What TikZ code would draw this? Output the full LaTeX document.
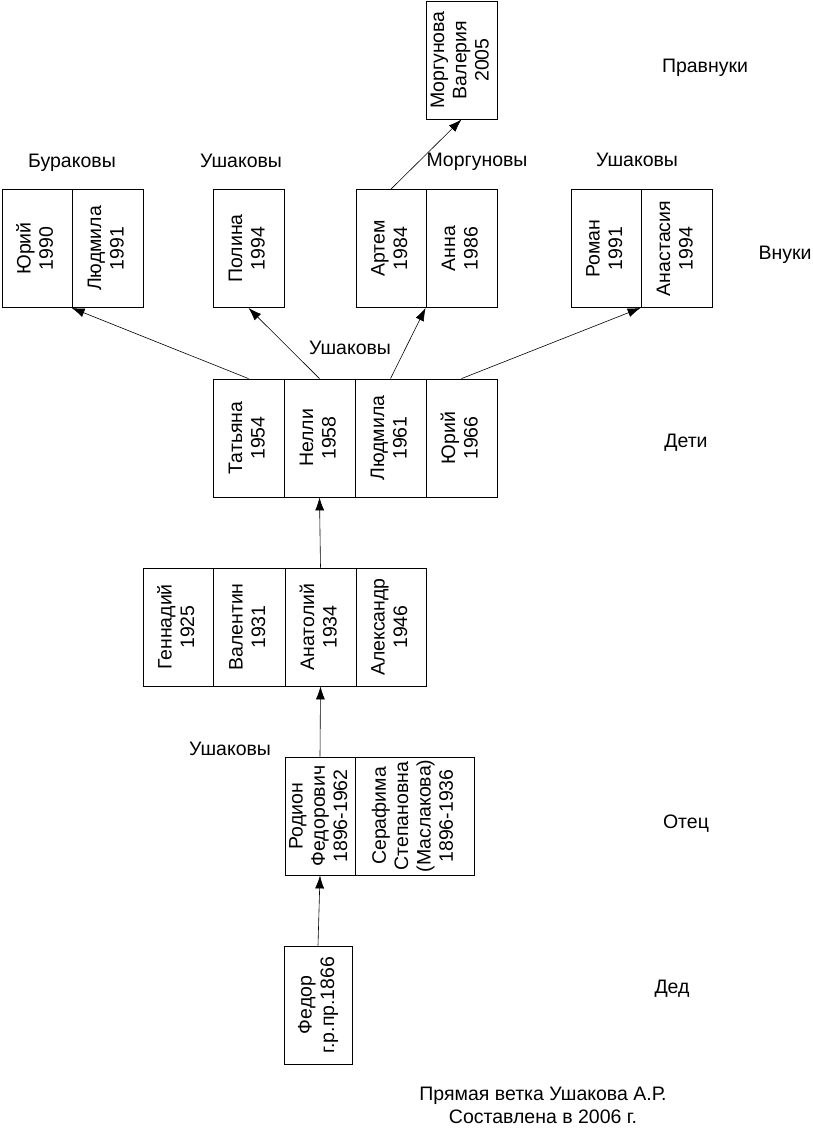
\documentclass[tikz,border=0pt]{standalone}
\usepackage{fontspec}
\setmainfont{Liberation Sans}
\usetikzlibrary{arrows.meta}
\begin{document}
\begin{tikzpicture}[x=1pt,y=-1pt,
  cell/.style={draw, line width=0.8pt, minimum width=71pt, minimum height=118pt, inner sep=0pt,
    font=\fontsize{19.5}{22.5}\selectfont},
  lbl/.style={anchor=base, inner sep=0pt, font=\fontsize{19.5}{22.5}\selectfont},
  link/.style={line width=0.6pt, -{Latex[length=13pt,width=9pt]}}]
\useasboundingbox (0,0) rectangle (812,1128);
\newcommand{\rt}[1]{\rotatebox{90}{\setbox\strutbox\hbox{\vrule height 16pt depth 6.3pt width 0pt}\begin{tabular}{@{}c@{}}#1\end{tabular}}}
% great-grandchildren
\node[cell] (morg) at (461.5,60) {\rt{Моргунова\\Валерия\\2005}};
% grandchildren
\node[cell, minimum width=70pt] (yu1) at (37,248.5) {\rt{Юрий\\1990}};
\node[cell] (lu1) at (107.5,248.5) {\rt{Людмила\\1991}};
\node[cell] (pol) at (248.5,248.5) {\rt{Полина\\1994}};
\node[cell, minimum width=70pt] (art) at (391,248.5) {\rt{Артем\\1984}};
\node[cell] (anna) at (461.5,248.5) {\rt{Анна\\1986}};
\node[cell, minimum width=70pt] (rom) at (606,248.5) {\rt{Роман\\1991}};
\node[cell] (anas) at (676.5,248.5) {\rt{Анастасия\\1994}};
% children
\node[cell] (tat) at (248.5,438) {\rt{Татьяна\\1954}};
\node[cell] (nel) at (319.5,438) {\rt{Нелли\\1958}};
\node[cell] (lud) at (390.5,438) {\rt{Людмила\\1961}};
\node[cell] (yur) at (461.5,438) {\rt{Юрий\\1966}};
% siblings
\node[cell, minimum width=70pt] (gen) at (178,627) {\rt{Геннадий\\1925}};
\node[cell, minimum width=72pt] (val) at (249,627) {\rt{Валентин\\1931}};
\node[cell] (ana) at (320.5,627) {\rt{Анатолий\\1934}};
\node[cell, minimum width=70pt] (ale) at (391,627) {\rt{Александр\\1946}};
% parents
\node[cell, minimum width=70pt] (rod) at (320,816) {\rt{Родион\\Федорович\\1896-1962}};
\node[cell, minimum width=119pt] (ser) at (414.5,816) {\rt{Серафима\\Степановна\\(Маслакова)\\1896-1936}};
% grandfather
\node[cell, minimum width=68pt] (fed) at (318,1005) {\rt{Федор\\г.р.пр.1866}};
% links
\draw[link] (tat.north) -- (lu1.south west);
\draw[link] (nel.north) -- (pol.south);
\draw[link] (lud.north) -- (anna.south west);
\draw[link] (yur.north) -- (anas.south west);
\draw[link] (art.north) -- (morg.south);
\draw[link] (ana.north) -- (nel.south);
\draw[link] (rod.north) -- (ana.south);
\draw[link] (fed.north) -- (rod.south);
% labels
\node[lbl] (l1) at (72,167) {Бураковы};
\node[lbl] (l2) at (241,167) {Ушаковы};
\node[lbl] (l3) at (477,166) {Моргуновы};
\node[lbl] (l4) at (637,166) {Ушаковы};
\node[lbl] (l5) at (705,72) {Правнуки};
\node[lbl] (l6) at (785,259) {Внуки};
\node[lbl] (l7) at (350,354) {Ушаковы};
\node[lbl] (l8) at (686,447) {Дети};
\node[lbl] (l9) at (230,755) {Ушаковы};
\node[lbl] (l10) at (686,828) {Отец};
\node[lbl] (l11) at (672,993) {Дед};
\node[lbl] (f1) at (543,1100) {Прямая ветка Ушакова А.Р.};
\node[lbl] (f2) at (543,1123) {Составлена в 2006 г.};
\end{tikzpicture}
\end{document}
